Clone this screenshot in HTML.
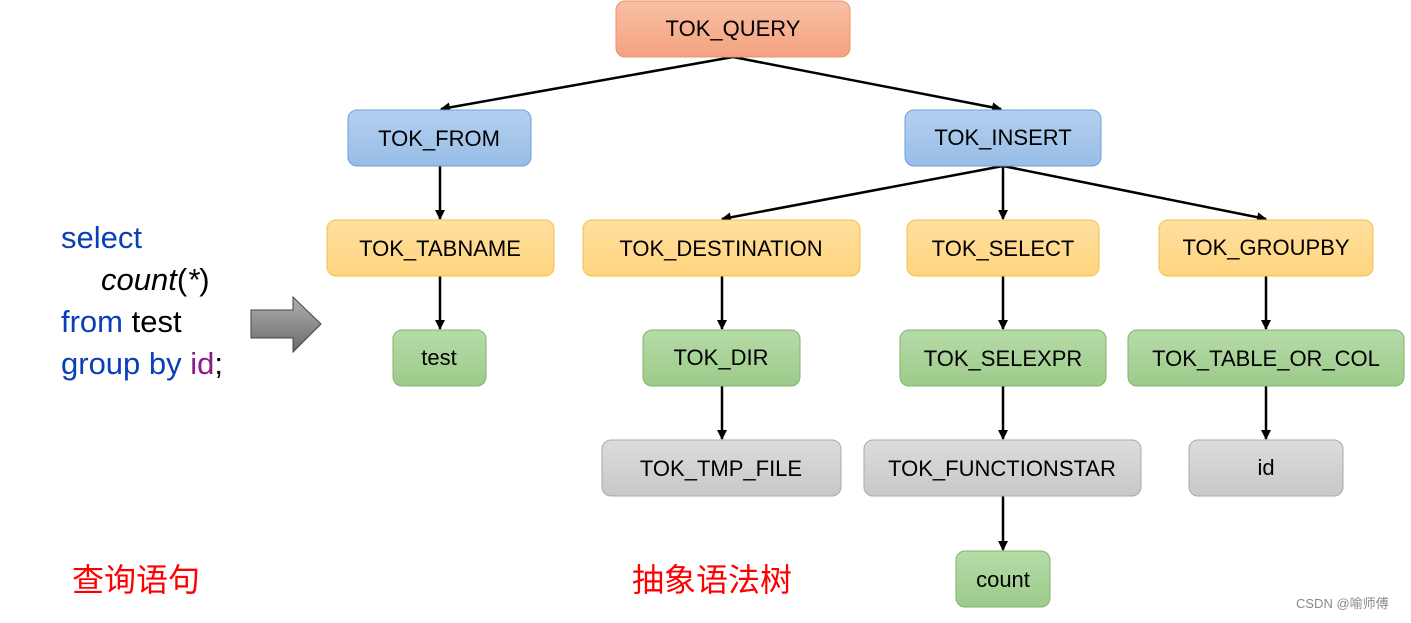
<!DOCTYPE html>
<html><head><meta charset="utf-8"><style>
body{margin:0;background:#fff;width:1411px;height:618px;overflow:hidden}
svg text{font-family:"Liberation Sans","Noto Sans CJK SC",sans-serif}
</style></head><body>
<svg width="1411" height="618" viewBox="0 0 1411 618" xmlns="http://www.w3.org/2000/svg">
<defs>
<linearGradient id="gr" x1="0" y1="0" x2="0" y2="1"><stop offset="0" stop-color="#f8c0a6"/><stop offset="1" stop-color="#f4a27f"/></linearGradient>
<linearGradient id="gb" x1="0" y1="0" x2="0" y2="1"><stop offset="0" stop-color="#b4d0f0"/><stop offset="1" stop-color="#98bde6"/></linearGradient>
<linearGradient id="gy" x1="0" y1="0" x2="0" y2="1"><stop offset="0" stop-color="#ffe0a0"/><stop offset="1" stop-color="#ffd47e"/></linearGradient>
<linearGradient id="gg" x1="0" y1="0" x2="0" y2="1"><stop offset="0" stop-color="#b6dba8"/><stop offset="1" stop-color="#9ccb8a"/></linearGradient>
<linearGradient id="gs" x1="0" y1="0" x2="0" y2="1"><stop offset="0" stop-color="#dcdcdc"/><stop offset="1" stop-color="#c8c8c8"/></linearGradient>
<linearGradient id="ga" x1="0" y1="0" x2="0" y2="1"><stop offset="0" stop-color="#b0b0b0"/><stop offset="1" stop-color="#6a6a6a"/></linearGradient>
<marker id="ar" markerWidth="10" markerHeight="10" refX="9" refY="5" orient="auto" markerUnits="userSpaceOnUse"><path d="M0,0 L10,5 L0,10 z" fill="#000"/></marker>
</defs>
<g stroke="#000" stroke-width="2.5" marker-end="url(#ar)" fill="none">
<line x1="733" y1="57" x2="441" y2="109"/>
<line x1="733" y1="57" x2="1001" y2="109"/>
<line x1="440" y1="166" x2="440" y2="219"/>
<line x1="1003" y1="166" x2="722" y2="219"/>
<line x1="1003" y1="166" x2="1003" y2="219"/>
<line x1="1003" y1="166" x2="1266" y2="219"/>
<line x1="440" y1="276" x2="440" y2="329"/>
<line x1="722" y1="276" x2="722" y2="329"/>
<line x1="1003" y1="276" x2="1003" y2="329"/>
<line x1="1266" y1="276" x2="1266" y2="329"/>
<line x1="722" y1="386" x2="722" y2="439"/>
<line x1="1003" y1="386" x2="1003" y2="439"/>
<line x1="1266" y1="386" x2="1266" y2="439"/>
<line x1="1003" y1="496" x2="1003" y2="550"/>
</g>
<g font-size="22" text-anchor="middle" fill="#000">
<rect x="616" y="1" width="234" height="56" rx="9" fill="url(#gr)" stroke="#e8956e"/><text x="733" y="36">TOK_QUERY</text>
<rect x="348" y="110" width="183" height="56" rx="9" fill="url(#gb)" stroke="#6c9fd8"/><text x="439" y="146">TOK_FROM</text>
<rect x="905" y="110" width="196" height="56" rx="9" fill="url(#gb)" stroke="#6c9fd8"/><text x="1003" y="145">TOK_INSERT</text>
<rect x="327" y="220" width="227" height="56" rx="9" fill="url(#gy)" stroke="#f2c04a"/><text x="440" y="256">TOK_TABNAME</text>
<rect x="583" y="220" width="277" height="56" rx="9" fill="url(#gy)" stroke="#f2c04a"/><text x="721" y="256">TOK_DESTINATION</text>
<rect x="907" y="220" width="192" height="56" rx="9" fill="url(#gy)" stroke="#f2c04a"/><text x="1003" y="256">TOK_SELECT</text>
<rect x="1159" y="220" width="214" height="56" rx="9" fill="url(#gy)" stroke="#f2c04a"/><text x="1266" y="255">TOK_GROUPBY</text>
<rect x="393" y="330" width="93" height="56" rx="9" fill="url(#gg)" stroke="#82b366"/><text x="439" y="365">test</text>
<rect x="643" y="330" width="157" height="56" rx="9" fill="url(#gg)" stroke="#82b366"/><text x="721" y="365">TOK_DIR</text>
<rect x="900" y="330" width="206" height="56" rx="9" fill="url(#gg)" stroke="#82b366"/><text x="1003" y="366">TOK_SELEXPR</text>
<rect x="1128" y="330" width="276" height="56" rx="9" fill="url(#gg)" stroke="#82b366"/><text x="1266" y="366">TOK_TABLE_OR_COL</text>
<rect x="602" y="440" width="239" height="56" rx="9" fill="url(#gs)" stroke="#aaaaaa"/><text x="721" y="476">TOK_TMP_FILE</text>
<rect x="864" y="440" width="277" height="56" rx="9" fill="url(#gs)" stroke="#aaaaaa"/><text x="1002" y="476">TOK_FUNCTIONSTAR</text>
<rect x="1189" y="440" width="154" height="56" rx="9" fill="url(#gs)" stroke="#aaaaaa"/><text x="1266" y="475">id</text>
<rect x="956" y="551" width="94" height="56" rx="9" fill="url(#gg)" stroke="#82b366"/><text x="1003" y="587">count</text>
</g>
<g font-size="31">
<text x="61" y="248" fill="#0a3fb8">select</text>
<text x="101" y="290" fill="#000" font-style="italic">count<tspan font-style="normal">(</tspan>*<tspan font-style="normal">)</tspan></text>
<text x="61" y="332" fill="#0a3fb8">from <tspan fill="#000">test</tspan></text>
<text x="61" y="374" fill="#0a3fb8">group by <tspan fill="#8b1a8b">id</tspan><tspan fill="#000">;</tspan></text>
</g>
<path d="M251,310 L293,310 L293,297 L321,324 L293,352 L293,338 L251,338 z" fill="url(#ga)" stroke="#444" stroke-width="1"/>
<text x="72" y="591" font-size="32" fill="#ff0000">查询语句</text>
<text x="632" y="591" font-size="32" fill="#ff0000">抽象语法树</text>
<text x="1296" y="608" font-size="13" fill="#888">CSDN @喻师傅</text>
</svg>
</body></html>
